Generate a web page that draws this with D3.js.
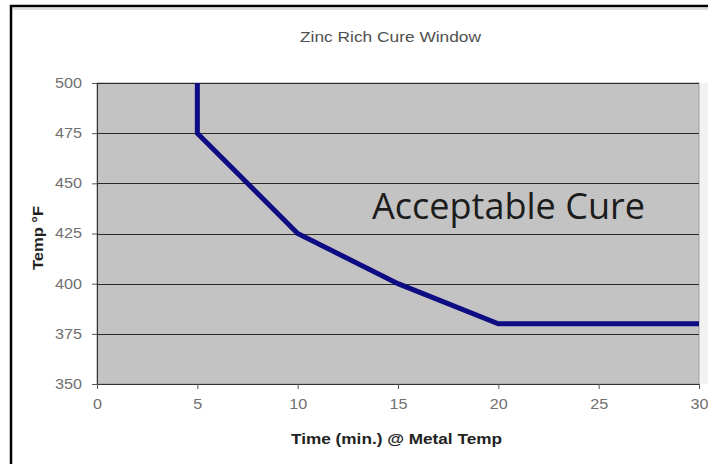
<!DOCTYPE html>
<html>
<head>
<meta charset="utf-8">
<script src="https://cdn.jsdelivr.net/npm/d3@7"></script>
<style>
  body { margin: 0; background: #fff; }
  svg { display: block; }
</style>
</head>
<body>
<svg id="viz" width="708" height="464"></svg>
<script>
// cure window boundary (time in min, temp in F)
var times = [5, 5, 10, 15, 20, 30]
var temps = [500, 475, 425, 400, 380, 380]
var xTicks = [0, 5, 10, 15, 20, 25, 30]
var yTicks = [350, 375, 400, 425, 450, 475, 500]

var svg = d3.select("#viz")
var plotL = 97, plotR = 699, plotT = 83, plotB = 384

var x = d3.scaleLinear().domain([0, 30]).range([plotL, plotR])
var y = d3.scaleLinear().domain([350, 500]).range([plotB, plotT])

// outer chart frame
svg.append("rect")
  .attr("x", 11).attr("y", 6)
  .attr("width", 720).attr("height", 480)
  .attr("fill", "#fff")
  .attr("stroke", "#000").attr("stroke-width", 2.5)
svg.append("line")
  .attr("x1", 12).attr("x2", 708).attr("y1", 9).attr("y2", 9)
  .attr("stroke", "#bbb").attr("stroke-width", 1)

// plot area
svg.append("rect")
  .attr("x", plotL).attr("y", plotT)
  .attr("width", plotR - plotL).attr("height", plotB - plotT)
  .attr("fill", "#c3c3c3")
  .attr("stroke", "#9a9a9a").attr("stroke-width", 1)
svg.append("rect")
  .attr("x", plotR + 1).attr("y", plotT)
  .attr("width", 8).attr("height", plotB - plotT)
  .attr("fill", "#f2f2f2")

// gridlines
svg.append("g")
  .selectAll("line")
  .data(yTicks.slice(1))
  .join("line")
  .attr("x1", plotL).attr("x2", plotR)
  .attr("y1", d => Math.round(y(d)) + 0.5).attr("y2", d => Math.round(y(d)) + 0.5)
  .attr("stroke", "#2a2a2a").attr("stroke-width", 1)

// axes
var yAxis = svg.append("g")
  .attr("transform", `translate(${plotL},0)`)
  .call(d3.axisLeft(y).tickValues(yTicks).tickSize(5).tickPadding(10))
var xAxis = svg.append("g")
  .attr("transform", `translate(0,${plotB})`)
  .call(d3.axisBottom(x).tickValues(xTicks).tickSize(5).tickPadding(10))

yAxis.select(".domain").attr("stroke", "#333")
xAxis.select(".domain").attr("stroke", "#333")
svg.selectAll(".tick line").attr("stroke", "#555")
// the picture is stretched sideways, so labels are widened a bit
svg.selectAll(".tick text")
  .attr("fill", "#707070")
  .attr("textLength", function () { return this.textContent.length * 9 })
  .attr("lengthAdjust", "spacingAndGlyphs")
  .style("font-family", "Liberation Sans, Arial, sans-serif")
  .style("font-size", "14px")

// boundary line
var line = d3.line().x((d, i) => x(times[i])).y(d => y(d))
svg.append("path")
  .datum(temps)
  .attr("d", line)
  .attr("fill", "none")
  .attr("stroke", "#0e0c82")
  .attr("stroke-width", 5)
  .attr("stroke-linejoin", "miter")

// texts
svg.append("text")
  .attr("x", 300).attr("y", 42)
  .attr("textLength", 181)
  .attr("lengthAdjust", "spacingAndGlyphs")
  .attr("fill", "#505050")
  .style("font-family", "Liberation Sans, Arial, sans-serif")
  .style("font-size", "14px")
  .text("Zinc Rich Cure Window")

svg.append("text")
  .attr("x", 372).attr("y", 219)
  .attr("textLength", 273)
  .attr("lengthAdjust", "spacingAndGlyphs")
  .attr("fill", "#1c1c1c")
  .style("font-family", "Open Sans, sans-serif")
  .style("font-size", "36px")
  .text("Acceptable Cure")

svg.append("text")
  .attr("x", 291).attr("y", 444)
  .attr("textLength", 211)
  .attr("lengthAdjust", "spacingAndGlyphs")
  .attr("fill", "#222")
  .style("font-family", "Liberation Sans, Arial, sans-serif")
  .style("font-weight", "bold")
  .style("font-size", "14px")
  .text("Time (min.) @ Metal Temp")

svg.append("text")
  .attr("transform", "translate(43,238) rotate(-90)")
  .attr("text-anchor", "middle")
  .attr("textLength", 64)
  .attr("lengthAdjust", "spacingAndGlyphs")
  .attr("fill", "#222")
  .style("font-family", "Liberation Sans, Arial, sans-serif")
  .style("font-weight", "bold")
  .style("font-size", "14px")
  .text("Temp °F")
</script>
</body>
</html>
